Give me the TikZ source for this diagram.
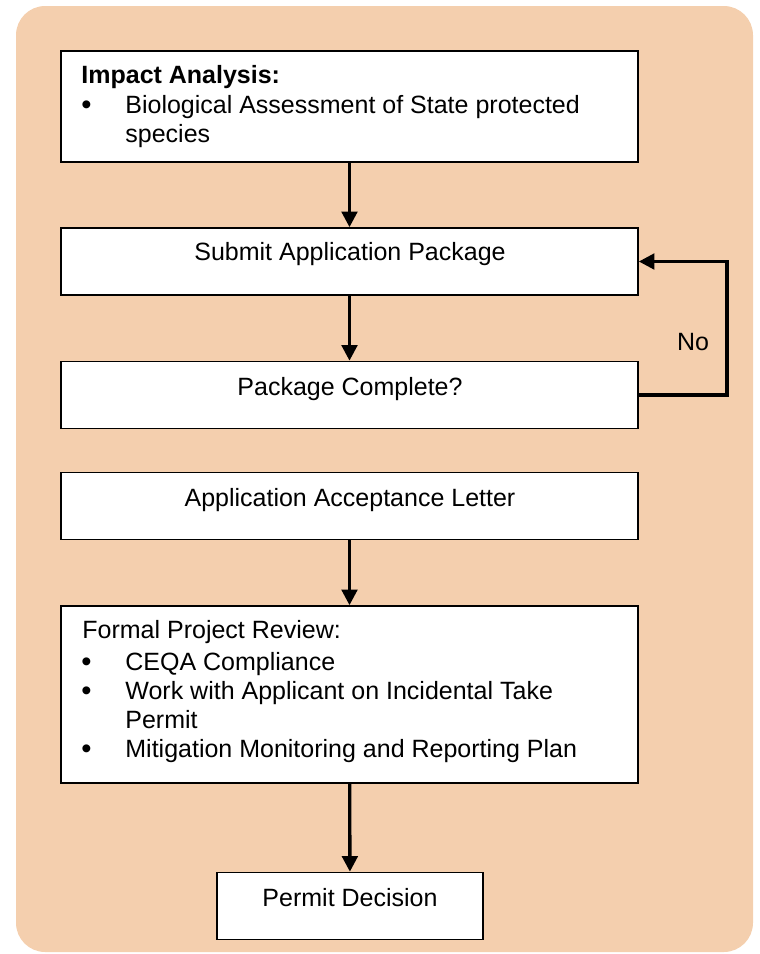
\documentclass[tikz,border=0pt]{standalone}
\usepackage{fontspec}
\setmainfont{Liberation Sans}
\usetikzlibrary{arrows.meta}
\definecolor{peach}{RGB}{244,207,174}
\tikzset{
  box/.style={draw, line width=0.8pt, fill=white, minimum width=276.96pt, inner sep=0pt},
  lbl/.style={inner sep=0pt, font=\fontsize{12}{14}\selectfont},
  bul/.style={inner sep=0pt, font=\fontsize{14}{14}\selectfont},
  flow/.style={line width=1.6pt, -{Triangle[width=7.5pt,length=7.5pt]}}
}
\begin{document}
\begin{tikzpicture}[x=0.48pt, y=-0.48pt]
\useasboundingbox (0,0) rectangle (759,954);
\fill [peach, rounded corners=14pt] (16,6) rectangle (753,952);
% boxes
\node [box, minimum height=53.28pt] (impact) at (349.5,106.5) {};
\node [box, minimum height=32.16pt] (submit) at (349.5,261.5) {};
\node [box, minimum height=32.16pt] (check) at (349.5,395) {};
\node [box, minimum height=32.16pt] (accept) at (349.5,506) {};
\node [box, minimum height=84.96pt] (review) at (349.5,694.5) {};
\node [box, minimum width=127.68pt, minimum height=32.16pt] (decision) at (350,906) {};
% texts
\node [lbl, anchor=base west] (impacthead) at (81,83) {\bfseries Impact Analysis:};
\node [bul, anchor=base west] (bulA) at (81,114) {•};
\node [lbl, anchor=base west] (impactA) at (125,113) {Biological Assessment of State protected};
\node [lbl, anchor=base west] (impactB) at (125,142) {species};
\node [lbl, anchor=base] (submittext) at (350,260) {Submit Application Package};
\node [lbl, anchor=base] (checktext) at (350,395) {Package Complete?};
\node [lbl, anchor=base] (accepttext) at (350,506) {Application Acceptance Letter};
\node [lbl, anchor=base west] (reviewhead) at (82,638) {Formal Project Review:};
\node [bul, anchor=base west] (bulB) at (81,671) {•};
\node [lbl, anchor=base west] (reviewA) at (125,670) {CEQA Compliance};
\node [bul, anchor=base west] (bulC) at (81,700) {•};
\node [lbl, anchor=base west] (reviewB) at (125,699) {Work with Applicant on Incidental Take};
\node [lbl, anchor=base west] (reviewC) at (125,728) {Permit};
\node [bul, anchor=base west] (bulD) at (81,758) {•};
\node [lbl, anchor=base west] (reviewD) at (125,757) {Mitigation Monitoring and Reporting Plan};
\node [lbl, anchor=base] (decisiontext) at (350,906) {Permit Decision};
\node [lbl] (no) at (693,342) {No};
% connectors
\coordinate (loop) at (727,0);
\draw [flow] (impact) -- (submit);
\draw [flow] (submit) -- (check);
\draw [flow] (check.east) -- (check.east -| loop) -- (submit.east -| loop) -- (submit.east);
\draw [flow] (accept) -- (review);
\draw [flow] (review) -- (decision);
\end{tikzpicture}
\end{document}
